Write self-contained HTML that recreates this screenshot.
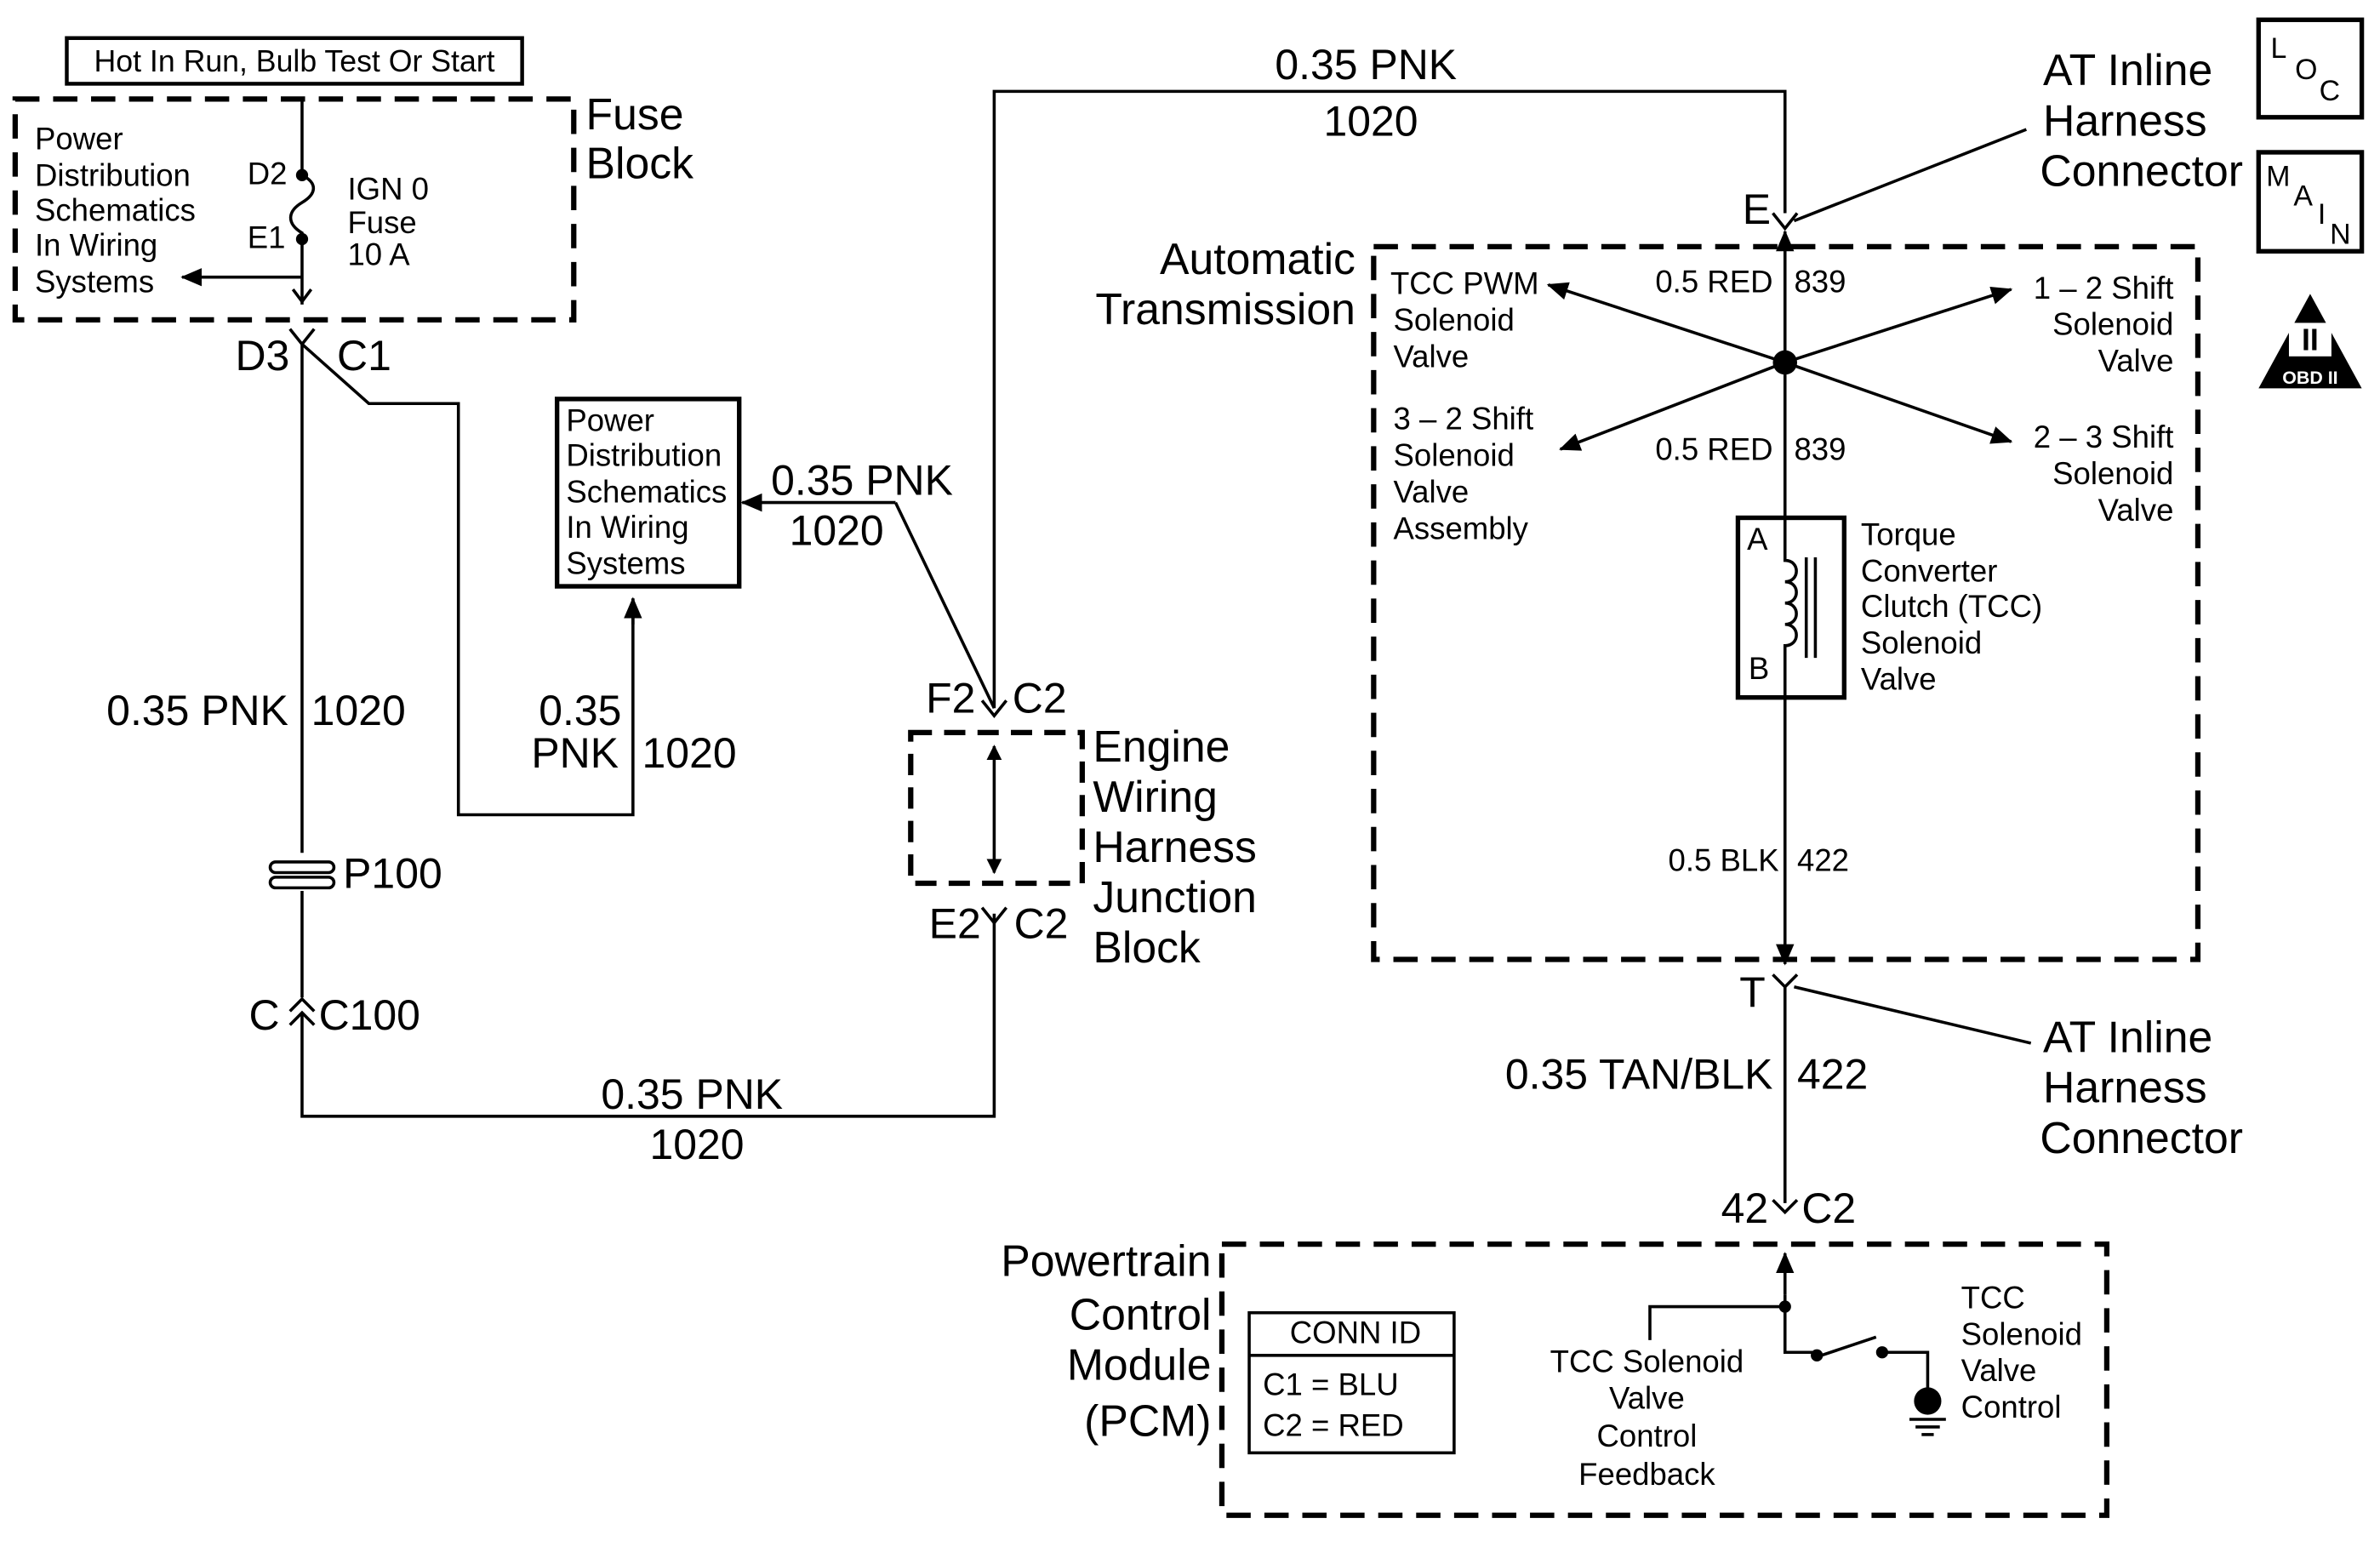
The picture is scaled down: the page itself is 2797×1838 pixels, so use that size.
<!DOCTYPE html>
<html><head><meta charset="utf-8"><style>
html,body{margin:0;padding:0;background:#fff;}
svg{display:block;}
text{font-family:"Liberation Sans",sans-serif;fill:#000;}
.s{font-size:20.5px;}
.m{font-size:28px;}
.l{font-size:29px;}
</style></head><body>
<svg width="2797" height="1838" viewBox="0 0 1568 1027" preserveAspectRatio="none" xmlns="http://www.w3.org/2000/svg">
<defs>
<marker id="ar" markerWidth="10" markerHeight="10" refX="9" refY="5" orient="auto" markerUnits="userSpaceOnUse"><path d="M0,0 L10,5 L0,10 Z" fill="#000"/></marker>
<marker id="ar2" markerWidth="14" markerHeight="12" refX="13" refY="6" orient="auto" markerUnits="userSpaceOnUse"><path d="M0,0 L14,6 L0,12 Z" fill="#000"/></marker>
</defs>
<g fill="none" stroke="#000" stroke-width="2">
<rect x="44" y="25" width="300" height="30" stroke-width="2.5"/>
<rect x="10" y="65" width="368" height="145" stroke-width="3.5" stroke-dasharray="16,9"/>
<line x1="199" y1="66" x2="199" y2="115"/>
<path d="M199,115 c10,5 10,12 0,18 c-10,6 -10,14 0,20 l0,4"/>
<line x1="199" y1="157" x2="199" y2="200"/>
<line x1="199" y1="182" x2="120" y2="182" marker-end="url(#ar2)"/>
<path d="M193,190 L199,198 L205,190"/>
<path d="M191,216 L199,226 L207,216"/>
<line x1="199" y1="226" x2="199" y2="560"/>
<path d="M199,226 L243,265 L302,265 L302,535 L417,535 L417,393" />
<line x1="417" y1="410" x2="417" y2="393" marker-end="url(#ar2)"/>
<rect x="367" y="262" width="120" height="123" stroke-width="3"/>
<line x1="590" y1="330" x2="489" y2="330" marker-end="url(#ar2)"/>
<line x1="590" y1="330" x2="655" y2="465"/>
<line x1="199" y1="585" x2="199" y2="655"/>
<rect x="178" y="566" width="42" height="7" rx="3.5"/>
<rect x="178" y="576" width="42" height="7" rx="3.5"/>
<path d="M191,664 L199,656 L207,664"/>
<path d="M191,673 L199,665 L207,673"/>
<polyline points="199,666 199,733 655,733 655,600"/>
<path d="M647,596 L655,606 L663,596" />
<rect x="600" y="481" width="113" height="99" stroke-width="3.5" stroke-dasharray="14,8"/>
<line x1="655" y1="530" x2="655" y2="490" marker-end="url(#ar)"/>
<line x1="655" y1="530" x2="655" y2="573" marker-end="url(#ar)"/>
<path d="M647,460 L655,470 L663,460"/>
<polyline points="655,465 655,60 1176,60 1176,140"/>
<path d="M1168,140 L1176,150 L1184,140"/>
<line x1="1335" y1="85" x2="1182" y2="145"/>
<rect x="1488" y="13" width="68" height="64" stroke-width="3"/>
<rect x="1488" y="100" width="68" height="65" stroke-width="3"/>
<rect x="905" y="162" width="543" height="468" stroke-width="3.5" stroke-dasharray="16,9"/>
<line x1="1176" y1="340" x2="1176" y2="152" marker-end="url(#ar2)"/>
<line x1="1176" y1="238" x2="1020" y2="187" marker-end="url(#ar2)"/>
<line x1="1176" y1="238" x2="1325" y2="190" marker-end="url(#ar2)"/>
<line x1="1176" y1="238" x2="1028" y2="295" marker-end="url(#ar2)"/>
<line x1="1176" y1="238" x2="1325" y2="290" marker-end="url(#ar2)"/>
<rect x="1145" y="340" width="70" height="118" stroke-width="3"/>
<path d="M1176,340 L1176,368 c10,0 10,14 0,14 c10,0 10,14 0,14 c10,0 10,14 0,14 c10,0 10,14 0,14 L1176,458"/>
<line x1="1190" y1="366" x2="1190" y2="432"/>
<line x1="1196" y1="366" x2="1196" y2="432"/>
<line x1="1176" y1="458" x2="1176" y2="633" marker-end="url(#ar2)"/>
<path d="M1168,640 L1176,648 L1184,640"/>
<line x1="1176" y1="648" x2="1176" y2="790"/>
<line x1="1182" y1="648" x2="1338" y2="685"/>
<path d="M1168,788 L1176,796 L1184,788"/>
<line x1="1176" y1="850" x2="1176" y2="823" marker-end="url(#ar2)"/>
<rect x="805" y="817" width="583" height="178" stroke-width="3.5" stroke-dasharray="16,9"/>
<rect x="823" y="862" width="135" height="92" stroke-width="2"/>
<line x1="823" y1="890" x2="958" y2="890"/>
<polyline points="1176,850 1176,888 1197,888"/>
<line x1="1200" y1="890" x2="1236" y2="878"/>
<polyline points="1242,888 1270,888 1270,915"/>
<polyline points="1176,858 1087,858 1087,880"/>
<line x1="1258" y1="932" x2="1282" y2="932"/>
<line x1="1262" y1="937" x2="1278" y2="937"/>
<line x1="1266" y1="942" x2="1274" y2="942"/>
</g>
<g fill="#000">
<circle cx="199" cy="115" r="4"/><circle cx="199" cy="157" r="4"/>
<circle cx="1176" cy="238" r="8"/>
<circle cx="1176" cy="858" r="4"/>
<circle cx="1197" cy="890" r="4"/><circle cx="1240" cy="888" r="4"/>
<circle cx="1270" cy="920" r="9"/>
<path d="M1522,193 L1556,255 L1488,255 Z"/>
</g>
<rect x="1508" y="212" width="28" height="22" fill="#fff"/>
<text x="1522" y="230" text-anchor="middle" style="font-size:20px;font-weight:bold">II</text>
<text x="1522" y="252" text-anchor="middle" style="font-size:12px;font-weight:bold;fill:#fff">OBD II</text>
<text x="1496" y="38" style="font-size:19px">L</text><text x="1512" y="52" style="font-size:19px">O</text><text x="1528" y="66" style="font-size:19px">C</text>
<text x="1493" y="122" style="font-size:19px">M</text><text x="1511" y="135" style="font-size:19px">A</text><text x="1527" y="147" style="font-size:19px">I</text><text x="1535" y="160" style="font-size:19px">N</text>

<text x="194" y="47" text-anchor="middle" style="font-size:20px">Hot In Run, Bulb Test Or Start</text>
<text x="386" y="85" class="l">Fuse</text><text x="386" y="117" class="l">Block</text>
<g class="s"><text x="23" y="98">Power</text><text x="23" y="122">Distribution</text><text x="23" y="145">Schematics</text><text x="23" y="168">In Wiring</text><text x="23" y="192">Systems</text>
<text x="163" y="121">D2</text><text x="163" y="163">E1</text>
<text x="229" y="131">IGN 0</text><text x="229" y="153">Fuse</text><text x="229" y="174">10 A</text>
<text x="373" y="283">Power</text><text x="373" y="306">Distribution</text><text x="373" y="330">Schematics</text><text x="373" y="353">In Wiring</text><text x="373" y="377">Systems</text>
</g>
<g class="m">
<text x="155" y="243">D3</text><text x="222" y="243">C1</text>
<text x="508" y="325">0.35 PNK</text><text x="520" y="358">1020</text>
<text x="190" y="476" text-anchor="end">0.35 PNK</text><text x="205" y="476">1020</text>
<text x="355" y="476">0.35</text><text x="350" y="504">PNK</text><text x="423" y="504">1020</text>
<text x="226" y="583">P100</text>
<text x="164" y="676">C</text><text x="210" y="676">C100</text>
<text x="396" y="728">0.35 PNK</text><text x="428" y="761">1020</text>
<text x="610" y="468">F2</text><text x="667" y="468">C2</text>
<text x="612" y="616">E2</text><text x="668" y="616">C2</text>
<text x="840" y="52">0.35 PNK</text><text x="872" y="89">1020</text>
<text x="1148" y="147">E</text>
<text x="1146" y="661">T</text>
<text x="1168" y="715" text-anchor="end">0.35 TAN/BLK</text><text x="1184" y="715">422</text>
<text x="1165" y="803" text-anchor="end">42</text><text x="1187" y="803">C2</text>
</g>
<g class="l">
<text x="720" y="500">Engine</text><text x="720" y="533">Wiring</text><text x="720" y="566">Harness</text><text x="720" y="599">Junction</text><text x="720" y="632">Block</text>
<text x="1346" y="56">AT Inline</text><text x="1346" y="89">Harness</text><text x="1344" y="122">Connector</text>
<text x="893" y="180" text-anchor="end">Automatic</text><text x="893" y="213" text-anchor="end">Transmission</text>
<text x="1346" y="691">AT Inline</text><text x="1346" y="724">Harness</text><text x="1344" y="757">Connector</text>
<text x="798" y="838" text-anchor="end">Powertrain</text><text x="798" y="873" text-anchor="end">Control</text><text x="798" y="906" text-anchor="end">Module</text><text x="798" y="943" text-anchor="end">(PCM)</text>
</g>
<g class="s">
<text x="1168" y="192" text-anchor="end">0.5 RED</text><text x="1182" y="192">839</text>
<text x="1168" y="302" text-anchor="end">0.5 RED</text><text x="1182" y="302">839</text>
<text x="916" y="193">TCC PWM</text><text x="918" y="217">Solenoid</text><text x="918" y="241">Valve</text>
<text x="918" y="282">3 – 2 Shift</text><text x="918" y="306">Solenoid</text><text x="918" y="330">Valve</text><text x="918" y="354">Assembly</text>
<g text-anchor="end"><text x="1432" y="196">1 – 2 Shift</text><text x="1432" y="220">Solenoid</text><text x="1432" y="244">Valve</text>
<text x="1432" y="294">2 – 3 Shift</text><text x="1432" y="318">Solenoid</text><text x="1432" y="342">Valve</text></g>
<text x="1151" y="361">A</text><text x="1152" y="446">B</text>
<text x="1226" y="358">Torque</text><text x="1226" y="382">Converter</text><text x="1226" y="405">Clutch (TCC)</text><text x="1226" y="429">Solenoid</text><text x="1226" y="453">Valve</text>
<text x="1172" y="572" text-anchor="end">0.5 BLK</text><text x="1184" y="572">422</text>
<text x="893" y="882" text-anchor="middle">CONN ID</text>
<text x="832" y="916">C1 = BLU</text><text x="832" y="943">C2 = RED</text>
<g text-anchor="middle"><text x="1085" y="901">TCC Solenoid</text><text x="1085" y="925">Valve</text><text x="1085" y="950">Control</text><text x="1085" y="975">Feedback</text></g>
<text x="1292" y="859">TCC</text><text x="1292" y="883">Solenoid</text><text x="1292" y="907">Valve</text><text x="1292" y="931">Control</text>
</g>
</svg>
</body></html>
